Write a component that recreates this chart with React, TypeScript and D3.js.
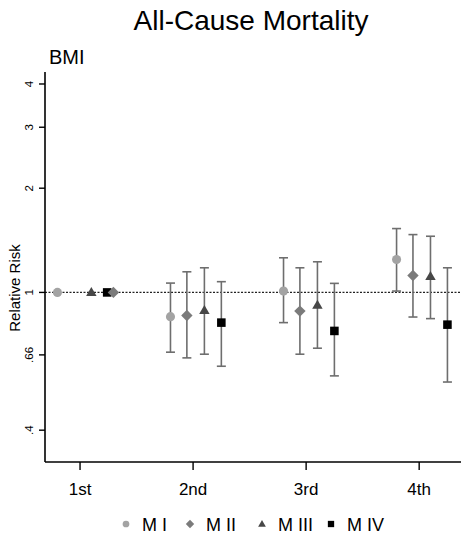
import React from "react";
import * as d3 from "d3";

const categories = ["1st", "2nd", "3rd", "4th"];
const seriesNames = ["M I", "M II", "M III", "M IV"];

// Relative risk point estimates per series, per BMI category
const rrMI = [1, 0.851, 1.009, 1.245];
const rrMII = [1, 0.858, 0.883, 1.119];
const rrMIII = [1, 0.887, 0.919, 1.112];
const rrMIV = [1, 0.818, 0.774, 0.807];

// Lower confidence limits (reference category has none)
const loMI = [NaN, 0.672, 0.818, 1.009];
const loMII = [NaN, 0.647, 0.663, 0.849];
const loMIII = [NaN, 0.663, 0.69, 0.84];
const loMIV = [NaN, 0.612, 0.574, 0.551];

// Upper confidence limits
const hiMI = [NaN, 1.064, 1.259, 1.529];
const hiMII = [NaN, 1.147, 1.178, 1.469];
const hiMIII = [NaN, 1.178, 1.226, 1.453];
const hiMIV = [NaN, 1.074, 1.062, 1.178];

const yTickValues = [0.4, 0.66, 1, 2, 3, 4];
const yTickLabels = [".4", ".66", "1", "2", "3", "4"];

const W = 461;
const H = 544;
const FONT = "'Liberation Sans', Arial, sans-serif";

const estimates = [rrMI, rrMII, rrMIII, rrMIV];
const lowers = [loMI, loMII, loMIII, loMIV];
const uppers = [hiMI, hiMII, hiMIII, hiMIV];

// horizontal dodge (in category units) for each model
const dodge = [-0.2, -0.055, 0.1, 0.25];
const dodgeFirst = [-0.2, 0.295, 0.1, 0.24];
// drawing order of the models
const drawOrder = [0, 2, 3, 1];

const markerColors = ["#a3a3a3", "#7b7b7b", "#474747", "#000000"];
const barColor = "#6e6e6e";

function Marker({ kind, x, y, s, color }: { kind: number; x: number; y: number; s: number; color: string }) {
  if (kind === 0) return <circle cx={x} cy={y} r={s * 0.48} fill={color} />;
  if (kind === 1) {
    const r = s * 0.6;
    return <path d={`M${x},${y - r}L${x + r},${y}L${x},${y + r}L${x - r},${y}Z`} fill={color} />;
  }
  if (kind === 2) {
    const h = s * 0.95;
    const w = s * 1.1;
    return <path d={`M${x},${y - h * 0.6}L${x + w / 2},${y + h * 0.4}L${x - w / 2},${y + h * 0.4}Z`} fill={color} />;
  }
  const a = s * 0.9;
  return <rect x={x - a / 2} y={y - a / 2} width={a} height={a} fill={color} />;
}

export default function App() {
  const left = 45;
  const right = 461;
  const top = 72;
  const bottom = 462;

  const x = d3.scaleLinear().domain([0.69, 4.37]).range([left, right]);
  const y = d3.scaleLog().domain([0.3237, 4.332]).range([bottom, top]);

  const legendX = [126, 190, 262, 331];

  return (
    <svg width={W} height={H} style={{ position: "absolute", left: 0, top: 0, background: "#fff" }} fontFamily={FONT}>
      <rect x={0} y={0} width={W} height={H} fill="#fff" />
      <text x={251} y={30} fontSize={28} textAnchor="middle" fill="#000">All-Cause Mortality</text>
      <text x={49} y={64} fontSize={20} fill="#000">BMI</text>

      {/* reference line at RR = 1 */}
      <line x1={left} x2={right} y1={y(1)} y2={y(1)} stroke="#222" strokeWidth={1.3} strokeDasharray="2,1.5" />

      {/* y axis */}
      <line x1={left} x2={left} y1={top} y2={bottom} stroke="#000" strokeWidth={1.6} />
      {yTickValues.map((v, i) => (
        <g key={i}>
          <line x1={left - 6} x2={left} y1={y(v)} y2={y(v)} stroke="#000" strokeWidth={1.4} />
          <text
            transform={`translate(${33},${y(v)}) rotate(-90)`}
            textAnchor="middle"
            fontSize={11.5}
            fill="#000"
          >
            {yTickLabels[i]}
          </text>
        </g>
      ))}
      <text transform={`translate(${20},${288}) rotate(-90)`} textAnchor="middle" fontSize={15} fill="#000">
        Relative Risk
      </text>

      {/* x axis */}
      <line x1={left} x2={right} y1={bottom} y2={bottom} stroke="#000" strokeWidth={1.6} />
      {categories.map((c, i) => (
        <g key={c}>
          <line x1={x(i + 1)} x2={x(i + 1)} y1={bottom} y2={bottom + 8} stroke="#000" strokeWidth={1.4} />
          <text x={x(i + 1)} y={495} fontSize={17} textAnchor="middle" fill="#000">{c}</text>
        </g>
      ))}

      {/* error bars */}
      {seriesNames.map((s, k) =>
        categories.map((c, i) => {
          const lo = lowers[k][i];
          const hi = uppers[k][i];
          if (!isFinite(lo) || !isFinite(hi)) return null;
          const cx = x(i + 1 + dodge[k]);
          return (
            <g key={`${s}-${c}-bar`} stroke={barColor} strokeWidth={1.6}>
              <line x1={cx} x2={cx} y1={y(lo)} y2={y(hi)} />
              <line x1={cx - 4.5} x2={cx + 4.5} y1={y(lo)} y2={y(lo)} />
              <line x1={cx - 4.5} x2={cx + 4.5} y1={y(hi)} y2={y(hi)} />
            </g>
          );
        })
      )}

      {/* point estimates */}
      {drawOrder.map((k) =>
        categories.map((c, i) => {
          const off = i === 0 ? dodgeFirst[k] : dodge[k];
          return (
            <Marker key={`${seriesNames[k]}-${c}`} kind={k} x={x(i + 1 + off)} y={y(estimates[k][i])} s={9.5} color={markerColors[k]} />
          );
        })
      )}

      {/* legend */}
      {seriesNames.map((s, k) => (
        <g key={`leg-${s}`}>
          <Marker kind={k} x={legendX[k]} y={524} s={7} color={markerColors[k]} />
          <text x={legendX[k] + 16} y={531} fontSize={18} fill="#000">{s}</text>
        </g>
      ))}
    </svg>
  );
}
